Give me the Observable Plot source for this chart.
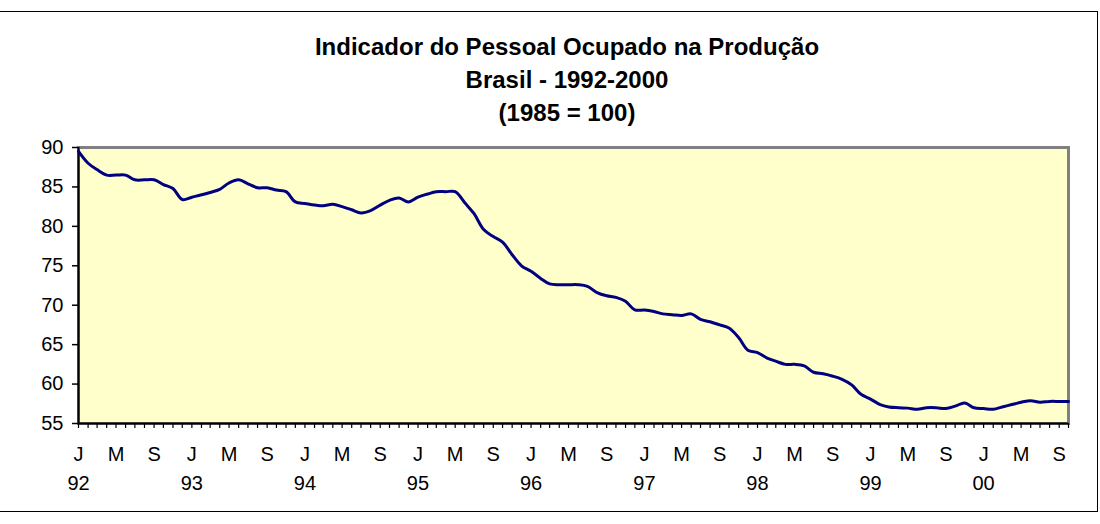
<!DOCTYPE html>
<html>
<head>
<meta charset="utf-8">
<script src="https://cdn.jsdelivr.net/npm/d3@7"></script>
<script src="https://cdn.jsdelivr.net/npm/@observablehq/plot@0.6"></script>
<style>
  body { margin: 0; background: #fff; font-family: "Liberation Sans", Arial, sans-serif; }
  #wrap { position: relative; width: 1100px; height: 524px; overflow: hidden; background: #fff; }
  #frame { position: absolute; left: -1px; top: 11px; width: 1099px; height: 501px; border: 1px solid #000; box-sizing: border-box; pointer-events: none; }
  #title { height: 130px; box-sizing: border-box; padding-top: 30px; padding-left: 34px; text-align: center;
           font-weight: bold; font-size: 24px; line-height: 33px; color: #000; }
  #chart svg { display: block; }
</style>
</head>
<body>
<div id="wrap">
  <div id="frame"></div>
  <div id="title">Indicador do Pessoal Ocupado na Produção<br>Brasil - 1992-2000<br>(1985 = 100)</div>
  <div id="chart"></div>
</div>
<script>
// Monthly index values (1985 = 100)
const startYear = 1992;
const values1992 = [89.5, 88.0, 87.2, 86.5, 86.5, 86.5, 85.9, 85.9, 85.9, 85.3, 84.8, 83.4];
const values1993 = [83.7, 84.0, 84.3, 84.7, 85.5, 85.9, 85.4, 84.9, 84.9, 84.6, 84.4, 83.1];
const values1994 = [82.9, 82.7, 82.6, 82.8, 82.5, 82.1, 81.7, 82.0, 82.7, 83.3, 83.6, 83.1];
const values1995 = [83.7, 84.1, 84.4, 84.4, 84.4, 83.0, 81.6, 79.6, 78.7, 78.0, 76.4, 75.0];
const values1996 = [74.3, 73.4, 72.7, 72.6, 72.6, 72.6, 72.4, 71.6, 71.2, 71.0, 70.5, 69.4];
const values1997 = [69.4, 69.2, 68.9, 68.8, 68.7, 68.9, 68.2, 67.9, 67.5, 67.1, 65.9, 64.3];
const values1998 = [64.0, 63.3, 62.9, 62.5, 62.5, 62.3, 61.5, 61.3, 61.0, 60.6, 59.9, 58.7];
const values1999 = [58.1, 57.4, 57.1, 57.0, 56.95, 56.8, 57.0, 57.0, 56.9, 57.2, 57.6, 57.0];
const values2000 = [56.9, 56.8, 57.1, 57.4, 57.7, 57.9, 57.7, 57.8, 57.8, 57.8];

const monthLetters = ["J", "M", "S"];          // Jan, May, Sep
const yearLabels = ["92", "93", "94", "95", "96", "97", "98", "99", "00"];
const yTicks = [55, 60, 65, 70, 75, 80, 85, 90];

const values = [].concat(values1992, values1993, values1994, values1995, values1996,
                         values1997, values1998, values1999, values2000);
const monthDate = i => new Date(Date.UTC(startYear, i, 1));
const data = values.map((v, i) => ({date: monthDate(i), value: v}));
const dates = data.map(d => d.date);

const letterData = [];
for (let i = 0; i < values.length; i += 4) letterData.push({date: monthDate(i), label: monthLetters[(i / 4) % 3]});
const yearData = yearLabels.map((y, k) => ({date: monthDate(k * 12), label: y}));

const font = "'Liberation Sans', Arial, sans-serif";

const chart = Plot.plot({
  width: 1100,
  height: 394,
  marginTop: 17,
  marginBottom: 101,
  marginLeft: 78,
  marginRight: 32,
  style: {fontFamily: font, fontSize: "20px", color: "#000", background: "transparent", overflow: "visible"},
  x: {type: "utc", domain: [dates[0], dates[dates.length - 1]]},
  y: {domain: [55, 90]},
  marks: [
    Plot.frame({fill: "#FFFFCC", stroke: null}),
    Plot.frame({stroke: "#808080", strokeWidth: 3}),
    Plot.axisY(yTicks, {tickSize: 6, tickPadding: 9, fontSize: 20, stroke: "#000", strokeWidth: 1.5, label: null}),
    Plot.axisX(dates, {tickSize: 5, tickFormat: () => "", stroke: "#000", strokeWidth: 1.2, label: null}),
    Plot.ruleX([dates[0]], {stroke: "#000", strokeWidth: 2}),
    Plot.ruleY([55], {stroke: "#000", strokeWidth: 2}),
    Plot.line(data, {x: "date", y: "value", stroke: "#000080", strokeWidth: 3, curve: "catmull-rom"}),
    Plot.text(letterData, {x: "date", text: "label", frameAnchor: "bottom", dy: 31, lineAnchor: "middle", fontSize: 20, fill: "#000"}),
    Plot.text(yearData, {x: "date", text: "label", frameAnchor: "bottom", dy: 60, lineAnchor: "middle", fontSize: 20, fill: "#000"})
  ]
});
document.getElementById("chart").appendChild(chart);
</script>
</body>
</html>
